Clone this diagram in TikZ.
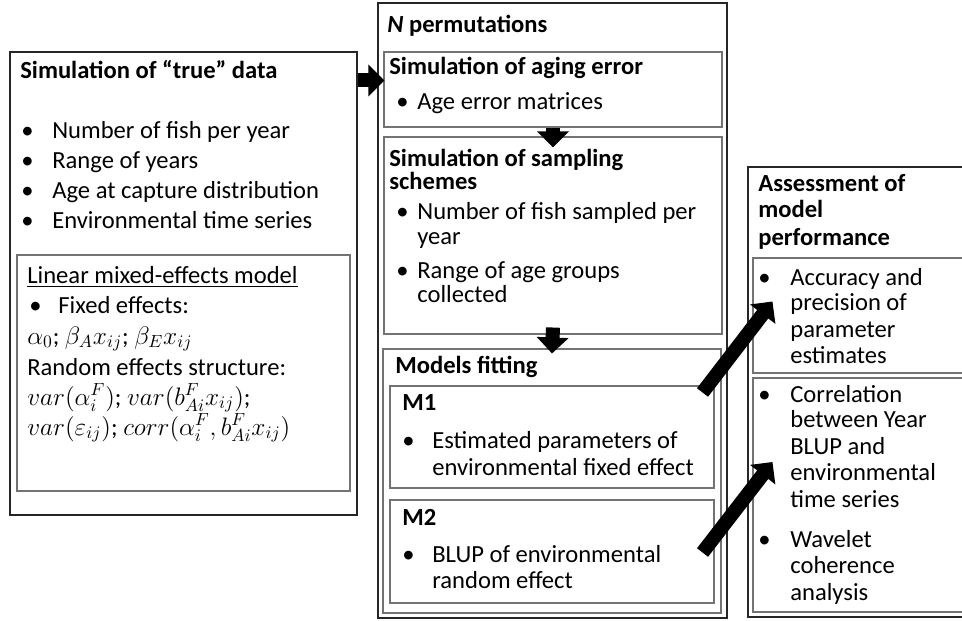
\documentclass[tikz,border=0pt]{standalone}
\usepackage{fontspec}
\setmainfont{Carlito}
\usepackage{amsmath}
\usetikzlibrary{arrows.meta}
\usetikzlibrary{positioning}
\usetikzlibrary{calc}
\usetikzlibrary{fit}
\tikzset{basic box/.style={draw,inner sep=0pt,line width=0.6pt}}
\tikzset{outer box/.style={basic box,draw=black!85}}
\tikzset{inner box/.style={basic box,draw=black!55}}
\tikzset{line/.style={anchor=base west,inner sep=0pt,font=\fontsize{14}{17}\selectfont}}
\tikzset{heading/.style={line,font=\fontsize{14}{17}\selectfont\bfseries}}
\tikzset{math line/.style={line,text height=10pt,text depth=3.5pt}}

\begin{document}
\begin{tikzpicture}
  [
    x=0.02cm,y=-0.02cm,
    fat arrow/.style={draw,
                      line width=0.28cm,
                      -{Triangle[length=0.32cm,width=0.62cm]}},
  ]
    \path [use as bounding box,clip] (0,0) rectangle (962,621);

    % boxes
    \node [outer box,fit={(10,52) (357,515)}] (truedata) {};
    \node [inner box,fit={(17,255) (350,491)}] (lmm) {};
    \node [outer box,fit={(378,3) (727,618)}] (perm) {};
    \node [inner box,fit={(384,52) (722,127)}] (aging) {};
    \node [inner box,fit={(384,137) (722,334)}] (sampling) {};
    \node [inner box,fit={(383,349) (721,613)}] (fitting) {};
    \node [inner box,fit={(390,386) (714,488)}] (m1) {};
    \node [inner box,fit={(390,500) (714,603)}] (m2) {};
    \node [outer box,fit={(748,167) (975,617)}] (assess) {};
    \node [inner box,fit={(753,258) (975,373)}] (accuracy) {};
    \node [inner box,fit={(753,378) (975,612)}] (correlation) {};

    % simulation of "true" data
    \node [heading] (t-title) at (20,79) {Simulation of “true” data};
    \foreach \y/\l [count=\i] in
      {
        139/Number of fish per year,
        169/Range of years,
        199/Age at capture distribution,
        229/Environmental time series
      }
    {
    \node [line] (t-dot\i) at (21,\y) {\textbullet};
    \node [line] (t-item\i) at (52,\y) {\l};
    }

    % mixed model
    \node [line] (lmm-title) at (27,283) {\underline{Linear mixed-effects model}};
    \node [line] (lmm-dot) at (29,313) {\textbullet};
    \node [line] (lmm-fixed) at (58,313) {Fixed effects:};
    \node [math line] (lmm-fix) at (27,344) {$\alpha_0$; $\beta_A x_{ij}$; $\beta_E x_{ij}$};
    \node [line] (lmm-random) at (27,375) {Random effects structure:};
    \node [math line] (lmm-var1) at (27,405) {$var(\alpha_i^F)$; $var(b_{Ai}^F x_{ij})$;};
    \node [math line] (lmm-var2) at (27,435) {$var(\varepsilon_{ij})$; $corr(\alpha_i^F, b_{Ai}^F x_{ij})$};

    % permutations
    \node [heading] (n-title) at (387,33) {\textit{N} permutations};
    \node [heading] (a-title) at (389,75) {Simulation of aging error};
    \node [line] (a-dot) at (396,110) {\textbullet};
    \node [line] (a-item) at (417,110) {Age error matrices};

    \foreach \y/\l [count=\i] in {167/Simulation of sampling,190/schemes}
      \node [heading] (s-title\i) at (389,\y) {\l};
    \foreach \y in {220,278}
      \node [line] (s-dot\y) at (396,\y) {\textbullet};
    \foreach \y/\l [count=\i] in
      {
        220/Number of fish sampled per,
        245/year,
        278/Range of age groups,
        302/collected
      }
      \node [line] (s-item\i) at (417,\y) {\l};

    \node [heading] (f-title) at (395,373) {Models fitting};
    \node [heading] (m1-title) at (402,410) {M1};
    \node [line] (m1-dot) at (402,448) {\textbullet};
    \node [line] (m1-item1) at (432,448) {Estimated parameters of};
    \node [line] (m1-item2) at (432,475) {environmental fixed effect};
    \node [heading] (m2-title) at (402,525) {M2};
    \node [line] (m2-dot) at (402,562) {\textbullet};
    \node [line] (m2-item1) at (432,562) {BLUP of environmental};
    \node [line] (m2-item2) at (432,588) {random effect};

    % assessment
    \foreach \y/\l [count=\i] in {192/Assessment of,218/model,246/performance}
      \node [heading] (p-title\i) at (758,\y) {\l};
    \foreach \y in {285,402,547}
      \node [line] (p-dot\y) at (758,\y) {\textbullet};
    \foreach \y/\l [count=\i] in
      {
        285/Accuracy and,
        310/precision of,
        337/parameter,
        363/estimates,
        402/Correlation,
        427/between Year,
        454/BLUP and,
        480/environmental,
        507/time series,
        547/Wavelet,
        573/coherence,
        600/analysis
      }
      \node [line] (p-item\i) at (790,\y) {\l};

    % arrows
    \draw [fat arrow] ($(truedata.north east)+(0,29)$) -- ($(aging.north west)+(1,29)$);
    \draw [fat arrow] (aging.south) -- ($(sampling.north)+(0,11)$);
    \draw [fat arrow] ($(sampling.south)+(0,-7)$) -- ($(fitting.north)+(0,5)$);
    \draw [fat arrow] ($(m1.north east)+(-12,7)$) -- ($(accuracy.west)+(20,-14)$);
    \draw [fat arrow] ($(m2.east)+(-12,1)$) -- ($(correlation.west)+(20,-33)$);

  \end{tikzpicture}
\end{document}
